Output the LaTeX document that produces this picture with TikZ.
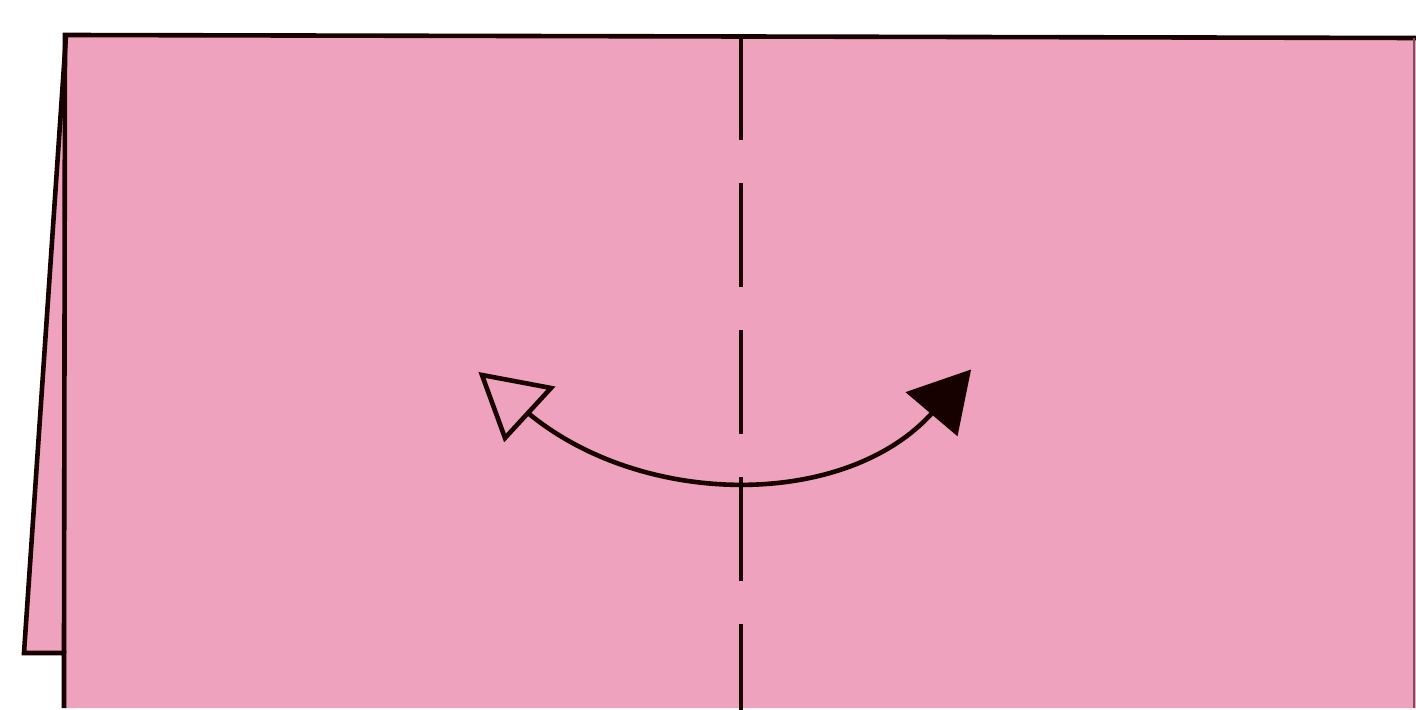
\documentclass[tikz,border=0pt]{standalone}
\begin{document}
\begin{tikzpicture}[x=0.5pt,y=-0.5pt,
  edge/.style={line width=2.3pt,draw=black!85!red!60!black,line join=miter},
  foldline/.style={line width=2.2pt,draw=black!85!red!60!black,dash pattern=on 52pt off 21.5pt}]
\definecolor{paper}{RGB}{238,162,189}
\useasboundingbox (0,0) rectangle (1416,710);
% main sheet
\fill[paper] (65,35) -- (1416,38) -- (1416,708) -- (64,708) -- cycle;
% left flap
\fill[paper] (65,36) -- (24,653) -- (64,653) -- cycle;
\draw[edge] (64,708) -- (64,653) -- (24,653) -- (66,36);
\draw[edge] (64,653) -- (65,35) -- (1416,38);
\draw[edge,line width=0.8pt,draw=black!50!paper] (1414,38) -- (1414,708);
% valley fold line
\draw[foldline] (741,36) -- (741,712);
% arrow
\draw[edge] (528,413) .. controls (644,509) and (847,509) .. (933,412);
\filldraw[edge,fill=paper] (482,375) -- (551,388) -- (505,438) -- cycle;
\filldraw[edge,fill=black!85!red!60!black] (968,373) -- (910,393) -- (956,432) -- cycle;
\end{tikzpicture}
\end{document}
